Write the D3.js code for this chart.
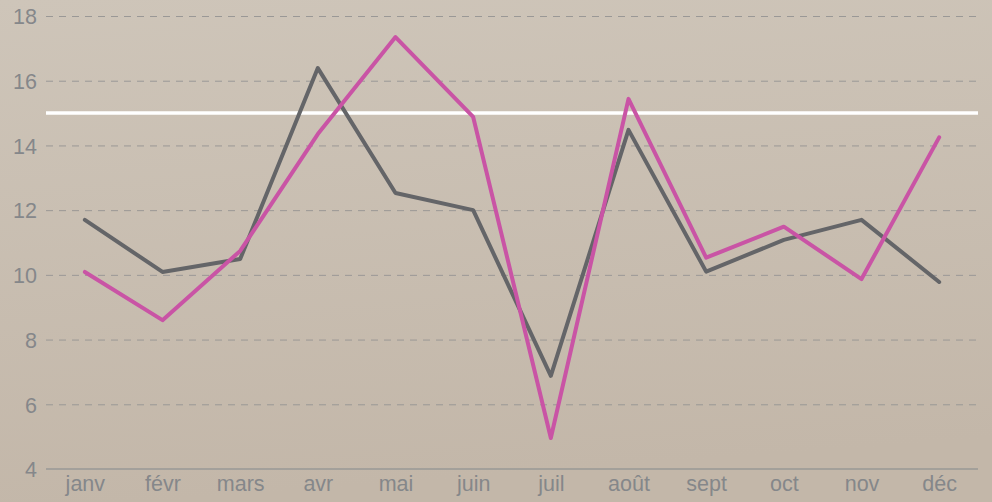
<!DOCTYPE html>
<html><head><meta charset="utf-8">
<script src="https://cdn.jsdelivr.net/npm/d3@7"></script>
<style>html,body{margin:0;padding:0;background:#c8bdb0;}svg{display:block;}</style>
</head><body>
<svg id="chart" width="992" height="502"></svg>
<script>
const months = ["janv","févr","mars","avr","mai","juin","juil","août","sept","oct","nov","déc"];
const seriesGray = [11.70,10.09,10.49,16.39,12.53,12.0,6.88,14.48,10.10,11.08,11.70,9.78];
const seriesPink = [10.09,8.60,10.74,14.35,17.35,14.88,4.96,15.44,10.53,11.49,9.87,14.25];
const yTicks = [4,6,8,10,12,14,16,18];
const refValue = 15;

const svg = d3.select("#chart");
const W = 992, H = 502;
const m = {left:46, right:14, top:16, bottom:33};

const defs = svg.append("defs");
const g1 = defs.append("linearGradient").attr("id","bg").attr("x1","0").attr("y1","0").attr("x2","0.15").attr("y2","1");
g1.append("stop").attr("offset","0").attr("stop-color","#cec5b9");
g1.append("stop").attr("offset","1").attr("stop-color","#c3b7a9");
svg.append("rect").attr("width",W).attr("height",H).attr("fill","url(#bg)");

const x = d3.scalePoint().domain(months).range([m.left, W-m.right]).padding(0.5);
const y = d3.scaleLinear().domain([4,18]).range([H-m.bottom, m.top]);

// grid
const grid = svg.append("g").call(d3.axisLeft(y).tickValues(yTicks).tickSize(-(W-m.left-m.right)).tickFormat(""))
  .attr("transform",`translate(${m.left},0)`);
grid.select(".domain").remove();
grid.selectAll("line").attr("stroke","#9a9896").attr("stroke-dasharray","7,6").attr("stroke-width",1);
grid.selectAll(".tick").filter(d=>d===4).remove();

// y labels
const yAx = svg.append("g").attr("transform",`translate(${m.left},0)`).call(d3.axisLeft(y).tickValues(yTicks).tickSize(0).tickPadding(9));
yAx.select(".domain").remove();
yAx.selectAll("text").attr("font-family","Liberation Sans, Arial, sans-serif").attr("font-size",21.5).attr("fill","#85878a").attr("dy","0.36em");

// x axis
const xAx = svg.append("g").attr("transform",`translate(0,${H-m.bottom})`).call(d3.axisBottom(x).tickSize(0).tickPadding(7));
xAx.select(".domain").attr("stroke","#999896").attr("stroke-width",1.5).attr("d",`M${m.left},0H${W-m.right}`);
xAx.selectAll("text").attr("font-family","Liberation Sans, Arial, sans-serif").attr("font-size",21.5).attr("fill","#85878a");

// reference line
svg.append("line").attr("x1",m.left).attr("x2",W-m.right).attr("y1",y(refValue)).attr("y2",y(refValue))
  .attr("stroke","#ffffff").attr("stroke-width",3.5);

const line = d3.line().x((d,i)=>x(months[i])).y(d=>y(d));
svg.append("path").datum(seriesGray).attr("d",line).attr("fill","none").attr("stroke","#646568").attr("stroke-width",4).attr("stroke-linejoin","round").attr("stroke-linecap","round");
svg.append("path").datum(seriesPink).attr("d",line).attr("fill","none").attr("stroke","#c954a5").attr("stroke-width",4).attr("stroke-linejoin","round").attr("stroke-linecap","round");
</script>
</body></html>
